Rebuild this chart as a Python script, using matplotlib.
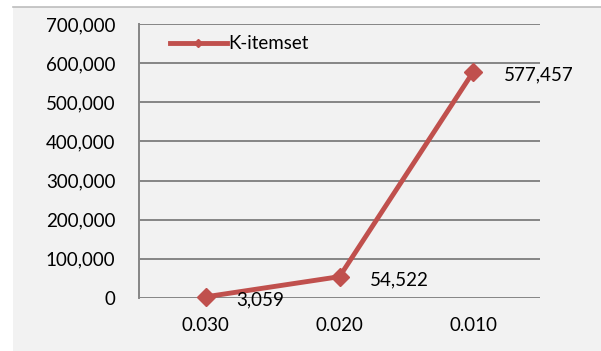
import numpy as np
import matplotlib.pyplot as plt
from matplotlib.patches import Rectangle
from matplotlib.lines import Line2D
from matplotlib.ticker import FuncFormatter

plt.rcParams['font.family'] = ['Lato', 'DejaVu Sans']

support = ['0.030', '0.020', '0.010']
k_itemset = [3059, 54522, 577457]

red = '#c0504d'
bg = '#f2f2f2'

fig = plt.figure(figsize=(6.01, 3.51), dpi=100)
fig.patch.set_facecolor('white')
# chart area panel with a thin top border
fig.add_artist(Rectangle((13 / 601, 0), 1, 1 - 7 / 351, transform=fig.transFigure,
                         facecolor=bg, edgecolor='none', zorder=0))
fig.add_artist(Line2D([13 / 601, 1], [1 - 7 / 351] * 2, transform=fig.transFigure,
                      color='#bdbdbd', lw=1.2, zorder=1))

ax = fig.add_axes([139 / 601, 1 - 298 / 351, 401 / 601, 274 / 351])
ax.set_facecolor(bg)
x = np.arange(len(support))
ax.plot(x, k_itemset, color=red, lw=3.5, marker='D', ms=9, label='K-itemset', zorder=3,
        clip_on=False)
for xi, v in zip(x, k_itemset):
    ax.annotate(f'{v:,}', (xi, v), xytext=(22, -2), textcoords='offset points',
                ha='left', va='center', fontsize=13.5, color='black')

ax.set_xlim(-0.5, 2.5)
ax.set_ylim(0, 700000)
ax.set_yticks(np.arange(0, 700001, 100000))
ax.yaxis.set_major_formatter(FuncFormatter(lambda v, p: f'{int(v):,}'))
ax.set_xticks(x)
ax.set_xticklabels(support)
ax.grid(axis='y', color='#868686', lw=1.4)
ax.set_axisbelow(True)
for s in ['top', 'right', 'bottom']:
    ax.spines[s].set_visible(False)
ax.spines['left'].set_color('#868686')
ax.spines['left'].set_linewidth(1.4)
ax.tick_params(length=0, labelsize=13.5, labelcolor='black')
ax.tick_params(axis='y', pad=17)
ax.tick_params(axis='x', pad=14)

leg = ax.legend(loc='upper left', frameon=False, fontsize=13.5, handlelength=3.0,
                markerscale=0.5, bbox_to_anchor=(0.05, 1.0), borderaxespad=0.2,
                handletextpad=0.1)

fig.savefig('out.png', dpi=100, facecolor=fig.get_facecolor())
